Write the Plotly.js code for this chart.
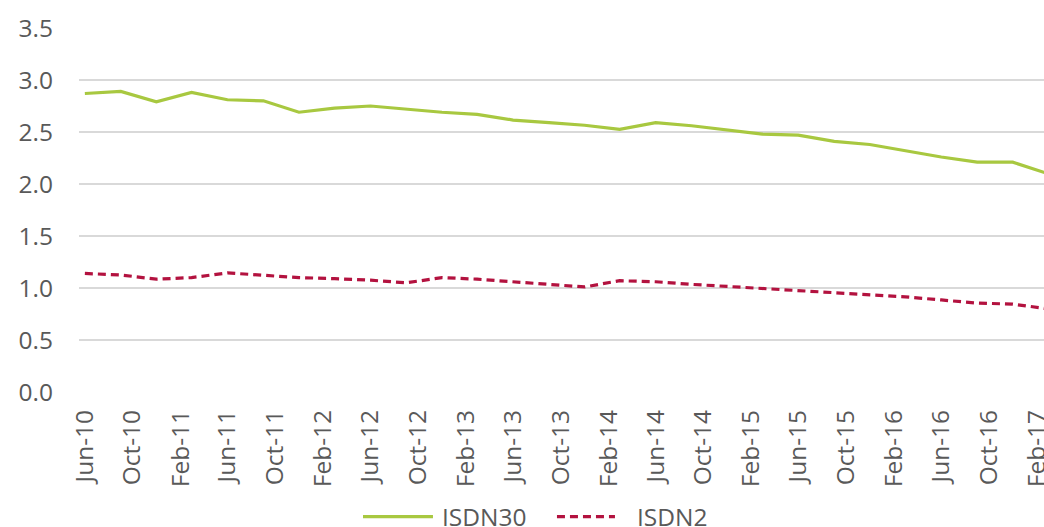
<!DOCTYPE html>
<html>
<head>
<meta charset="utf-8">
<script src="https://cdn.plot.ly/plotly-3.0.1.min.js"></script>
<style>
html,body{margin:0;padding:0;background:#fff;}
#chart{width:1044px;height:527px;}
</style>
</head>
<body>
<div id="chart"></div>
<script>
// Quarterly observation dates
const dates = [
  "2010-06-01","2010-09-01","2010-12-01","2011-03-01",
  "2011-06-01","2011-09-01","2011-12-01","2012-03-01",
  "2012-06-01","2012-09-01","2012-12-01","2013-03-01",
  "2013-06-01","2013-09-01","2013-12-01","2014-03-01",
  "2014-06-01","2014-09-01","2014-12-01","2015-03-01",
  "2015-06-01","2015-09-01","2015-12-01","2016-03-01",
  "2016-06-01","2016-09-01","2016-12-01","2017-03-01"
];
const isdn30 = [
  2.87, 2.89, 2.79, 2.88,
  2.81, 2.80, 2.69, 2.73,
  2.75, 2.72, 2.69, 2.67,
  2.615, 2.59, 2.565, 2.525,
  2.59, 2.56, 2.52, 2.48,
  2.47, 2.41, 2.38, 2.32,
  2.26, 2.21, 2.21, 2.10
];
const isdn2 = [
  1.14, 1.125, 1.085, 1.10,
  1.145, 1.12, 1.10, 1.09,
  1.075, 1.05, 1.10, 1.085,
  1.06, 1.035, 1.01, 1.07,
  1.06, 1.035, 1.015, 0.995,
  0.975, 0.96, 0.94, 0.915,
  0.885, 0.855, 0.845, 0.80
];
const seriesNames = ["ISDN30", "ISDN2"];
const seriesColors = ["#A8C840", "#B3123F"];

const font = "'Open Sans', sans-serif";
const textColor = "#595959";
const fs = 24.5;
const redDash = "8px,5px";

const traces = [
  {x: dates, y: isdn30, name: seriesNames[0], type: "scatter", mode: "lines",
   line: {color: seriesColors[0], width: 3.2}},
  {x: dates, y: isdn2, name: seriesNames[1], type: "scatter", mode: "lines",
   line: {color: seriesColors[1], width: 3.2, dash: redDash}}
];

// custom legend (below the axis labels)
const legY = -0.3426;
const shapes = [
  {type: "line", xref: "paper", yref: "paper", x0: 0.2943, x1: 0.3668, y0: legY, y1: legY,
   line: {color: seriesColors[0], width: 3.2}},
  {type: "line", xref: "paper", yref: "paper", x0: 0.4953, x1: 0.5554, y0: legY, y1: legY,
   line: {color: seriesColors[1], width: 3.2, dash: redDash}}
];
const annotations = [
  {xref: "paper", yref: "paper", x: 0.3745, y: legY, xanchor: "left", yanchor: "middle",
   text: seriesNames[0], showarrow: false, font: {family: font, size: fs, color: textColor}},
  {xref: "paper", yref: "paper", x: 0.5760, y: legY, xanchor: "left", yanchor: "middle",
   text: seriesNames[1], showarrow: false, font: {family: font, size: fs, color: textColor}}
];

const layout = {
  width: 1044, height: 527,
  margin: {l: 79, r: 0, t: 28, b: 135},
  paper_bgcolor: "#fff", plot_bgcolor: "#fff",
  font: {family: font, size: fs, color: textColor},
  showlegend: false,
  shapes: shapes,
  annotations: annotations,
  xaxis: {
    type: "date",
    range: ["2010-05-17", "2017-02-19"],
    tick0: "2010-06-01", dtick: "M4", tickformat: "%b-%y",
    tickangle: -90, showgrid: false, zeroline: false,
    showline: false, ticks: "", ticklabelstandoff: 12,
    ticklabeloverflow: "allow",
    tickfont: {family: font, size: fs, color: textColor}
  },
  yaxis: {
    range: [0, 3.5], dtick: 0.5, tickformat: ".1f",
    showgrid: true, gridcolor: "#d9d9d9", gridwidth: 1.6,
    zeroline: false, showline: false, ticks: "",
    ticklabelstandoff: 25,
    tickfont: {family: font, size: fs, color: textColor}
  }
};

Plotly.newPlot("chart", traces, layout, {displayModeBar: false, staticPlot: true});
</script>
</body>
</html>
